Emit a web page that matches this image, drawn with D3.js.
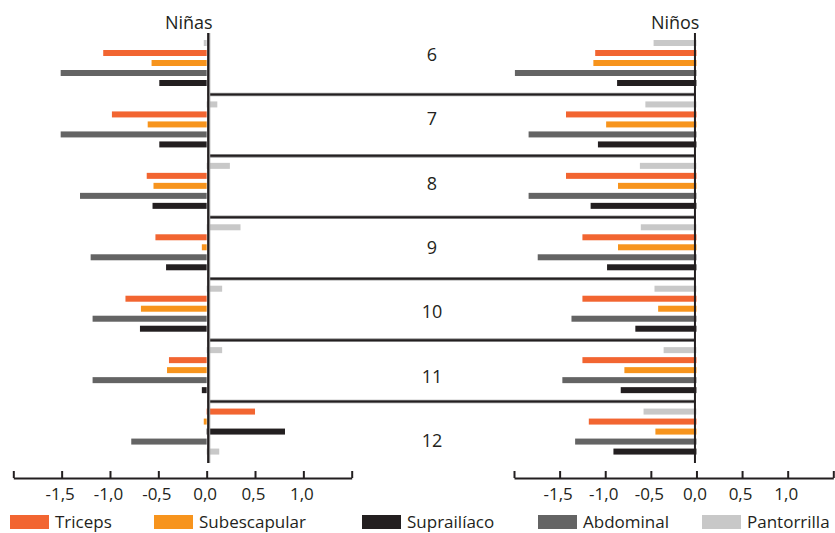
<!DOCTYPE html>
<html>
<head>
<meta charset="utf-8">
<script src="https://cdn.jsdelivr.net/npm/d3@7/dist/d3.min.js"></script>
<style>
  html, body { margin: 0; padding: 0; background: #fff; }
  svg { display: block; font-family: "Open Sans", "Noto Sans", sans-serif; }
</style>
</head>
<body>
<svg id="chart" width="835" height="533"></svg>
<script>
// ---------------- DATA ----------------
const ages = [6, 7, 8, 9, 10, 11, 12];
const seriesNames = ["Triceps", "Subescapular", "Suprailíaco", "Abdominal", "Pantorrilla"];
const barOrder = ["Pantorrilla", "Triceps", "Subescapular", "Abdominal", "Suprailíaco"];
const barOrderNinas12 = ["Triceps", "Subescapular", "Suprailíaco", "Abdominal", "Pantorrilla"];
const tickValues = [-2.0, -1.5, -1.0, -0.5, 0.0, 0.5, 1.0, 1.5];
const tickLabelValues = [-1.5, -1.0, -0.5, 0.0, 0.5, 1.0];
const panelTitles = ["Niñas", "Niños"];

// Niñas
const ninasTriceps      = [-1.07, -0.98, -0.62, -0.53, -0.84, -0.39,  0.50];
const ninasSubescapular = [-0.57, -0.61, -0.55, -0.05, -0.68, -0.41, -0.03];
const ninasSuprailiaco  = [-0.49, -0.49, -0.56, -0.42, -0.69, -0.05,  0.81];
const ninasAbdominal    = [-1.51, -1.51, -1.31, -1.20, -1.18, -1.18, -0.78];
const ninasPantorrilla  = [-0.03,  0.11,  0.24,  0.35,  0.16,  0.16,  0.13];

// Niños
const ninosTriceps      = [-1.11, -1.43, -1.43, -1.25, -1.25, -1.25, -1.18];
const ninosSubescapular = [-1.13, -0.99, -0.86, -0.86, -0.42, -0.79, -0.45];
const ninosSuprailiaco  = [-0.87, -1.08, -1.16, -0.98, -0.67, -0.83, -0.91];
const ninosAbdominal    = [-1.99, -1.84, -1.84, -1.74, -1.37, -1.47, -1.33];
const ninosPantorrilla  = [-0.47, -0.56, -0.62, -0.61, -0.46, -0.36, -0.58];

// ---------------- STYLE / LAYOUT ----------------
const colors = {
  "Triceps": "#F26531",
  "Subescapular": "#F7941D",
  "Suprailíaco": "#231F20",
  "Abdominal": "#646464",
  "Pantorrilla": "#C8C8C8"
};
const dark = "#231F20";
const legendX = [10, 154, 362, 538, 702];

const ninasData = {
  "Triceps": ninasTriceps, "Subescapular": ninasSubescapular, "Suprailíaco": ninasSuprailiaco,
  "Abdominal": ninasAbdominal, "Pantorrilla": ninasPantorrilla
};
const ninosData = {
  "Triceps": ninosTriceps, "Subescapular": ninosSubescapular, "Suprailíaco": ninosSuprailiaco,
  "Abdominal": ninosAbdominal, "Pantorrilla": ninosPantorrilla
};

const svg = d3.select("#chart");

const xL = d3.scaleLinear().domain([-2, 1.5]).range([13.3, 351.7]);
const xR = d3.scaleLinear().domain([-2, 1.5]).range([514, 833.3]);
const y = d3.scaleBand().domain(ages).range([33, 463]);
const ys = d3.scaleBand().domain(barOrder).range([5, 55]).paddingInner(0.4).paddingOuter(0.2);
const ys12 = d3.scaleBand().domain(barOrderNinas12).range([5, 55]).paddingInner(0.4).paddingOuter(0.2);
const labelY = d3.scalePoint().domain(ages).range([54, 440]);

const fmt = v => d3.format(".1f")(v).replace(".", ",").replace("\u2212", "-");

function drawBars(x, data, isNinas) {
  const g = svg.append("g");
  ages.forEach((age, i) => {
    const sc = (isNinas && age === 12) ? ys12 : ys;
    barOrder.forEach(s => {
      const v = data[s][i];
      g.append("rect")
        .attr("x", Math.min(x(v), x(0)))
        .attr("y", y(age) + sc(s))
        .attr("width", Math.abs(x(v) - x(0)))
        .attr("height", sc.bandwidth())
        .attr("fill", colors[s]);
    });
  });
}

drawBars(xL, ninasData, true);
drawBars(xR, ninosData, false);

// separators between age groups
const sepG = svg.append("g");
ages.slice(1).forEach(age => {
  const yy = y(age);
  sepG.append("line").attr("x1", xL(0) + 1).attr("x2", xR(0) - 1)
    .attr("y1", yy).attr("y2", yy).attr("stroke", "#9A9A9A").attr("stroke-width", 3.6);
  sepG.append("line").attr("x1", xL(0) + 1).attr("x2", xR(0) - 1)
    .attr("y1", yy).attr("y2", yy).attr("stroke", dark).attr("stroke-width", 2);
});

// vertical zero axes
[[xL(0) + 1.5, 1], [xR(0) - 1.5, 0]].forEach(([xx, grey]) => {
  if (grey) {
    svg.append("line").attr("x1", xx + 0.6).attr("x2", xx + 0.6).attr("y1", y.range()[0]).attr("y2", y.range()[1])
      .attr("stroke", "#9A9A9A").attr("stroke-width", 3);
  }
  svg.append("line").attr("x1", xx).attr("x2", xx).attr("y1", y.range()[0]).attr("y2", y.range()[1])
    .attr("stroke", dark).attr("stroke-width", 2);
});

// age labels
svg.append("g").selectAll("text").data(ages).join("text")
  .attr("x", 432).attr("y", d => labelY(d))
  .attr("text-anchor", "middle").attr("dominant-baseline", "central")
  .attr("font-size", 18).attr("fill", dark)
  .text(d => d);

// panel titles
svg.append("text").attr("x", xL(0) + 6).attr("y", 29).attr("text-anchor", "end")
  .attr("font-size", 18).attr("fill", dark).text(panelTitles[0]);
svg.append("text").attr("x", xR(0) + 3).attr("y", 29).attr("text-anchor", "end")
  .attr("font-size", 18).attr("fill", dark).text(panelTitles[1]);

// bottom axes
function drawAxis(x) {
  const gA = svg.append("g").attr("transform", "translate(0,478)");
  gA.call(d3.axisTop(x).tickValues(tickValues).tickSize(7).tickSizeOuter(0).tickFormat(""));
  gA.select(".domain").attr("stroke", dark).attr("stroke-width", 2);
  gA.selectAll(".tick line").attr("stroke", dark).attr("stroke-width", 2);
  const gL = svg.append("g").attr("transform", "translate(0,478)");
  gL.call(d3.axisBottom(x).tickValues(tickLabelValues).tickSize(0).tickPadding(0).tickFormat(fmt));
  gL.select(".domain").remove();
  gL.selectAll(".tick text").attr("y", 0).attr("dy", "0").attr("transform", "translate(-2,22)")
    .attr("font-size", 17).attr("font-family", "'Open Sans', sans-serif").attr("fill", dark);
}
drawAxis(xL);
drawAxis(xR);

// legend
const lg = svg.append("g");
seriesNames.forEach((s, i) => {
  lg.append("rect").attr("x", legendX[i]).attr("y", 515).attr("width", 39).attr("height", 14)
    .attr("fill", colors[s]);
  lg.append("text").attr("x", legendX[i] + 45).attr("y", 528)
    .attr("font-size", 17).attr("fill", dark).text(s);
});
</script>
</body>
</html>
